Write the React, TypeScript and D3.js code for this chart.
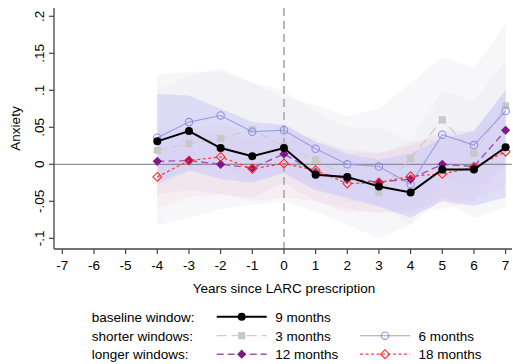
import React from "react";
import * as d3 from "d3";

const years = [-4, -3, -2, -1, 0, 1, 2, 3, 4, 5, 6, 7];
const xTicks = [-7, -6, -5, -4, -3, -2, -1, 0, 1, 2, 3, 4, 5, 6, 7];
const yTicks = [-0.1, -0.05, 0, 0.05, 0.1, 0.15, 0.2];
const yTickLabels = ["-.1", "-.05", "0", ".05", ".1", ".15", ".2"];

const m9 = [0.031, 0.045, 0.022, 0.011, 0.022, -0.014, -0.017, -0.03, -0.038, -0.007, -0.007, 0.023];
const m3 = [0.019, 0.028, 0.035, 0.047, 0.024, 0.006, -0.017, -0.038, 0.008, 0.06, 0.015, 0.079];
const m6 = [0.036, 0.057, 0.066, 0.044, 0.046, 0.021, 0.0, -0.003, -0.027, 0.04, 0.026, 0.072];
const m12 = [0.004, 0.005, 0.0, -0.005, 0.014, -0.011, -0.02, -0.024, -0.02, 0.0, -0.003, 0.046];
const m18 = [-0.017, 0.005, 0.01, -0.006, 0.001, -0.008, -0.026, -0.025, -0.016, -0.013, -0.004, 0.017];

const ci9Lo = [-0.025, -0.008, -0.02, -0.025, -0.012, -0.035, -0.045, -0.057, -0.072, -0.05, -0.056, -0.045];
const ci9Hi = [0.095, 0.093, 0.075, 0.057, 0.053, 0.03, 0.014, 0.006, 0.015, 0.035, 0.045, 0.1];
const ci3Lo = [-0.082, -0.073, -0.06, -0.055, -0.05, -0.064, -0.082, -0.1, -0.082, -0.046, -0.073, -0.057];
const ci3Hi = [0.122, 0.125, 0.125, 0.11, 0.09, 0.08, 0.065, 0.075, 0.11, 0.145, 0.13, 0.19];
const ci6Lo = [-0.03, -0.01, 0.0, -0.02, -0.01, -0.03, -0.05, -0.055, -0.08, -0.02, -0.03, 0.0];
const ci6Hi = [0.1, 0.12, 0.13, 0.11, 0.1, 0.07, 0.05, 0.05, 0.03, 0.1, 0.085, 0.14];
const ci12Lo = [-0.04, -0.035, -0.04, -0.045, -0.025, -0.05, -0.06, -0.065, -0.065, -0.045, -0.05, -0.005];
const ci12Hi = [0.05, 0.045, 0.04, 0.035, 0.055, 0.03, 0.02, 0.015, 0.025, 0.045, 0.045, 0.1];
const ci18Lo = [-0.06, -0.045, -0.04, -0.05, -0.045, -0.05, -0.065, -0.065, -0.06, -0.06, -0.05, -0.03];
const ci18Hi = [0.025, 0.05, 0.055, 0.04, 0.045, 0.035, 0.015, 0.015, 0.03, 0.035, 0.045, 0.065];

const FONT = "'Liberation Sans', Arial, sans-serif";
const FS = 13.5;

const x = d3.scaleLinear().domain([-7, 7]).range([62.3, 505.6]);
const y = d3.scaleLinear().domain([-0.1, 0.2]).range([238.3, 16.3]);

const AX_X = 54;
const AX_Y = 249;
const TOP = 8;
const RIGHT = 512;

function area(lo: number[], hi: number[]) {
  return d3
    .area<number>()
    .x((_, i) => x(years[i]))
    .y0((_, i) => y(lo[i]))
    .y1((_, i) => y(hi[i]))(years) as string;
}
function line(v: number[]) {
  return d3
    .line<number>()
    .x((_, i) => x(years[i]))
    .y((d) => y(d))(v) as string;
}
const diamond = (r: number) => `M0,${-r}L${r},0L0,${r}L${-r},0Z`;

type Marker = "circle" | "square" | "ocircle" | "diamond" | "odiamond";
function Mark({ kind, cx, cy }: { kind: Marker; cx: number; cy: number }) {
  if (kind === "circle") return <circle cx={cx} cy={cy} r={4} fill="#000" />;
  if (kind === "ocircle")
    return <circle cx={cx} cy={cy} r={3.7} fill="none" stroke="#8f8fe3" strokeWidth={1.1} />;
  if (kind === "square")
    return <rect x={cx - 3.6} y={cy - 3.6} width={7.2} height={7.2} fill="#c8c8c8" />;
  if (kind === "diamond")
    return <path d={diamond(4.6)} transform={`translate(${cx},${cy})`} fill="#7d1a86" />;
  return (
    <path d={diamond(4.4)} transform={`translate(${cx},${cy})`} fill="none" stroke="#ff2a2a" strokeWidth={1.1} />
  );
}

const series = [
  { v: m3, color: "#cdcdcd", w: 1.2, dash: "10,5", mark: "square" as Marker },
  { v: m6, color: "#9c9ce6", w: 1.1, dash: undefined, mark: "ocircle" as Marker },
  { v: m12, color: "#a055b0", w: 1.4, dash: "7,4", mark: "diamond" as Marker },
  { v: m18, color: "#ff3a3a", w: 1.2, dash: "3,2.5", mark: "odiamond" as Marker },
  { v: m9, color: "#000", w: 2, dash: undefined, mark: "circle" as Marker },
];

export default function App() {
  const legendRows = [
    { label: "baseline window:", yy: 316.7 },
    { label: "shorter windows:", yy: 335.7 },
    { label: "longer windows:", yy: 354.2 },
  ];
  const legendItems = [
    { row: 0, col: 0, name: "9 months", s: series[4] },
    { row: 1, col: 0, name: "3 months", s: series[0] },
    { row: 1, col: 1, name: "6 months", s: series[1] },
    { row: 2, col: 0, name: "12 months", s: series[2] },
    { row: 2, col: 1, name: "18 months", s: series[3] },
  ];
  const colX = [216.7, 360];
  return (
    <svg
      width={513}
      height={364}
      style={{ position: "absolute", left: 0, top: 0, background: "#fff" }}
      fontFamily={FONT}
      fontSize={FS}
    >
      <rect width={513} height={364} fill="#fff" />
      {/* confidence bands */}
      <path d={area(ci3Lo, ci3Hi)} fill="#ececf0" fillOpacity={0.42} />
      <path d={area(ci6Lo, ci6Hi)} fill="#e6e6ee" fillOpacity={0.3} />
      <path d={area(ci18Lo, ci18Hi)} fill="#f6d4dc" fillOpacity={0.25} />
      <path d={area(ci12Lo, ci12Hi)} fill="#c9a6dc" fillOpacity={0.12} />
      <path d={area(ci9Lo, ci9Hi)} fill="#cbcbf8" fillOpacity={0.55} />

      {/* reference lines */}
      <line x1={AX_X} x2={RIGHT} y1={y(0)} y2={y(0)} stroke="#7a7a7a" strokeWidth={1} />
      <line x1={x(0)} x2={x(0)} y1={TOP} y2={AX_Y} stroke="#a8a8a8" strokeWidth={1.6} strokeDasharray="8,5" />

      {/* series */}
      {series.map((s, si) => (
        <g key={si}>
          <path d={line(s.v)} fill="none" stroke={s.color} strokeWidth={s.w} strokeDasharray={s.dash} />
          {s.v.map((d, i) => (
            <Mark key={i} kind={s.mark} cx={x(years[i])} cy={y(d)} />
          ))}
        </g>
      ))}

      {/* axes */}
      <line x1={AX_X} x2={AX_X} y1={TOP} y2={AX_Y} stroke="#444" strokeWidth={1.3} />
      <line x1={AX_X} x2={RIGHT} y1={AX_Y} y2={AX_Y} stroke="#444" strokeWidth={1.3} />
      {yTicks.map((t, i) => (
        <g key={i}>
          <line x1={AX_X - 5} x2={AX_X} y1={y(t)} y2={y(t)} stroke="#444" strokeWidth={1.2} />
          <text
            transform={`translate(${43.5},${y(t)}) rotate(-90)`}
            textAnchor="middle"
          >
            {yTickLabels[i]}
          </text>
        </g>
      ))}
      <text transform={`translate(${19.5},${(TOP + AX_Y) / 2}) rotate(-90)`} textAnchor="middle">
        Anxiety
      </text>
      {xTicks.map((t) => (
        <g key={t}>
          <line x1={x(t)} x2={x(t)} y1={AX_Y} y2={AX_Y + 5} stroke="#444" strokeWidth={1.2} />
          <text x={x(t)} y={270} textAnchor="middle">
            {t}
          </text>
        </g>
      ))}
      <text x={x(0)} y={293} textAnchor="middle">
        Years since LARC prescription
      </text>

      {/* legend */}
      {legendRows.map((r, i) => (
        <text key={i} x={91.7} y={r.yy + 4.8}>
          {r.label}
        </text>
      ))}
      {legendItems.map((it, i) => {
        const yy = legendRows[it.row].yy;
        const x0 = colX[it.col];
        return (
          <g key={i}>
            <line x1={x0} x2={x0 + 50} y1={yy} y2={yy} stroke={it.s.color} strokeWidth={it.s.w} strokeDasharray={it.s.dash} />
            <Mark kind={it.s.mark} cx={x0 + 25} cy={yy} />
            <text x={x0 + 58.5} y={yy + 4.8}>
              {it.name}
            </text>
          </g>
        );
      })}
    </svg>
  );
}
